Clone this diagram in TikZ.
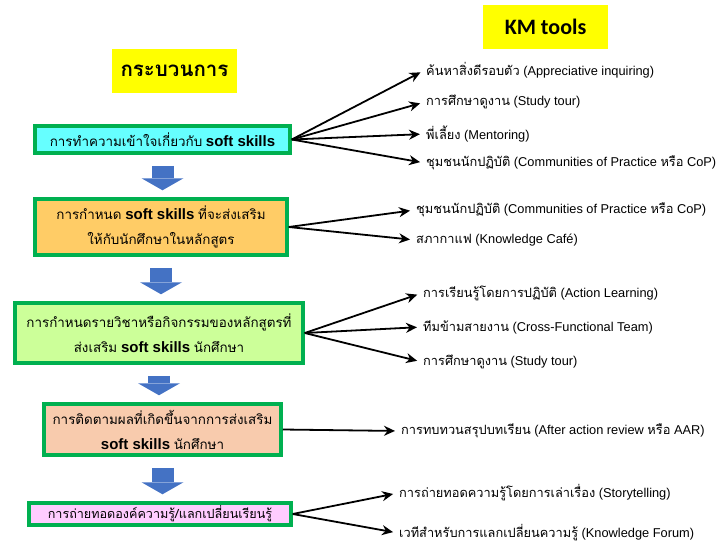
\documentclass[tikz,border=0pt]{standalone}
\usepackage{fontspec}
\setmainfont{Liberation Sans}
\newfontfamily\thaifont[Script=Thai]{Loma}
\newfontfamily\kmfont{Carlito}
\usetikzlibrary{arrows.meta, positioning}
\definecolor{kmgreen}{RGB}{0,176,80}
\definecolor{kmcyan}{RGB}{102,255,255}
\definecolor{kmorange}{RGB}{255,204,102}
\definecolor{kmlime}{RGB}{204,255,153}
\definecolor{kmpeach}{RGB}{248,203,173}
\definecolor{kmpink}{RGB}{255,204,255}
\definecolor{kmblue}{RGB}{68,114,196}
\definecolor{kmyellow}{RGB}{255,255,0}
\newcommand{\tha}[1]{{\thaifont #1}}
\newcommand{\sk}{{\fontsize{15}{17}\selectfont\bfseries soft skills}}
\tikzset{
  stepbox/.style={
    rectangle, draw=kmgreen, line width=3.5pt, align=center,
    font=\fontsize{13.4}{25}\selectfont, inner sep=2pt
  },
  header/.style={
    rectangle, fill=kmyellow, minimum width=125pt, minimum height=44pt
  },
  tool/.style={anchor=west, font=\fontsize{12.8}{14}\selectfont, inner sep=1pt},
  toolarrow/.style={-{Stealth[length=11pt,width=10pt]}, line width=1.8pt, shorten >=5pt},
  downarrow/.style={
    draw=kmblue, line width=22pt,
    -{Triangle[length=12pt,width=42pt,line width=0pt]},
    shorten <=11pt, shorten >=7pt
  }
}

\begin{document}
\begin{tikzpicture}[x=1pt, y=-1pt]
\useasboundingbox (0,0) rectangle (723,544);

% -------- headers --------
\node[header] (hproc) at (174.5,71) {\thaifont\bfseries\fontsize{20.5}{24}\selectfont กระบวนการ};
\node[header] (hkm) at (545.5,27) {\kmfont\bfseries\fontsize{22}{24}\selectfont KM tools};

% -------- process steps (left) --------
\node[stepbox, fill=kmcyan, minimum width=255pt, minimum height=27pt] (b1) at (162.5,139.5)
  {\tha{การทำความเข้าใจเกี่ยวกับ} \sk};
\node[stepbox, fill=kmorange, minimum width=252pt, minimum height=56pt] (b2) at (161,227)
  {\tha{การกำหนด} \sk\ \tha{ที่จะส่งเสริม}\\ \tha{ให้กับนักศึกษาในหลักสูตร}};
\node[stepbox, fill=kmlime, minimum width=288pt, minimum height=60pt] (b3) at (159,333)
  {\tha{การกำหนดรายวิชาหรือกิจกรรมของหลักสูตรที่}\\ \tha{ส่งเสริม} \sk\ \tha{นักศึกษา}};
\node[stepbox, fill=kmpeach, minimum width=237pt, minimum height=51pt] (b4) at (162.5,429.5)
  {\tha{การติดตามผลที่เกิดขึ้นจากการส่งเสริม}\\ \sk\ \tha{นักศึกษา}};
\node[stepbox, fill=kmpink, minimum width=262pt, minimum height=22pt,
      font=\fontsize{12.6}{14}\selectfont] (b5) at (160,514)
  {\tha{การถ่ายทอดองค์ความรู้/แลกเปลี่ยนเรียนรู้}};

\foreach \a/\b in {b1/b2,b2/b3,b3/b4,b4/b5}
  \draw[downarrow] (\a.south) -- (\a.south |- \b.north);

% -------- KM tools (right) --------
\node[tool] (t11) at (425,70) {\tha{ค้นหาสิ่งดีรอบตัว} (Appreciative inquiring)};
\node[tool] (t12) at (425,102) {\tha{การศึกษาดูงาน} (Study tour)};
\node[tool] (t13) at (425,134) {\tha{พี่เลี้ยง} (Mentoring)};
\node[tool] (t14) at (425,163) {\tha{ชุมชนนักปฏิบัติ} (Communities of Practice \tha{หรือ} CoP)};

\node[tool] (t21) at (415,210) {\tha{ชุมชนนักปฏิบัติ} (Communities of Practice \tha{หรือ} CoP)};
\node[tool] (t22) at (415,240) {\tha{สภากาแฟ} (Knowledge Café)};

\node[tool] (t31) at (422,293) {\tha{การเรียนรู้โดยการปฏิบัติ} (Action Learning)};
\node[tool] (t32) at (422,327) {\tha{ทีมข้ามสายงาน} (Cross-Functional Team)};
\node[tool] (t33) at (422,362) {\tha{การศึกษาดูงาน} (Study tour)};

\node[tool] (t41) at (400,431) {\tha{การทบทวนสรุปบทเรียน} (After action review \tha{หรือ} AAR)};

\node[tool] (t51) at (398,493) {\tha{การถ่ายทอดความรู้โดยการเล่าเรื่อง} (Storytelling)};
\node[tool] (t52) at (398,533) {\tha{เวทีสำหรับการแลกเปลี่ยนความรู้} (Knowledge Forum)};

\foreach \a/\b in {b1/t11,b1/t12,b1/t13,b1/t14,b2/t21,b2/t22,b3/t31,b3/t32,b3/t33,b4/t41,b5/t51,b5/t52}
  \draw[toolarrow] (\a.east) -- (\b.west);

\end{tikzpicture}
\end{document}
